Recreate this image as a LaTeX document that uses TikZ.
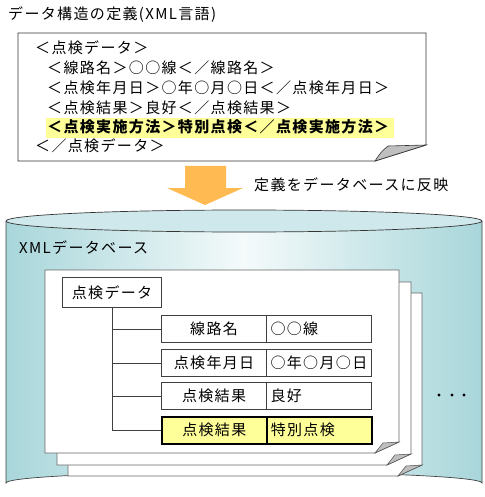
\documentclass[tikz,border=0pt]{standalone}
\usepackage{fontspec}
\setmainfont{Noto Sans CJK JP}[LetterSpace=9]
\definecolor{cylcol}{RGB}{168,214,218}
\definecolor{arrowcol}{RGB}{255,187,82}
\definecolor{hilite}{RGB}{255,255,153}
\tikzset{
  txt/.style={anchor=west, inner sep=0pt, font=\fontsize{15bp}{18bp}\selectfont},
  cell/.style={draw=black!75, line width=1.1pt, fill=white, minimum width=105bp,
    minimum height=27bp, anchor=north west, inner sep=0pt,
    font=\fontsize{15bp}{18bp}\selectfont},
  valcell/.style={cell, text width=97bp, align=left, inner xsep=4bp},
  markcell/.style={fill=hilite, draw=black, line width=1.6pt}
}
\begin{document}
\begin{tikzpicture}[x=1bp, y=-1bp]
  \useasboundingbox (0,0) rectangle (485,497);

  \node[txt] (title) at (8,15) {データ構造の定義(XML言語)};

  % document with folded corner
  \filldraw[
    line width=0.8pt,
    draw=black!80,
    fill=white
  ] (18,33) -- (426,33) -- (426,145) -- (375,161) -- (18,161) -- cycle;
  \fill[hilite] (46,118) rectangle (394,138);
  \filldraw[
    line width=0.6pt,
    draw=black!80,
    fill=black!25
  ] (375,161) .. controls (381,152) .. (388,146) -- (426,145) -- cycle;

  \node[txt] (l1) at (35,48) {＜点検データ＞};
  \node[txt] (l2) at (47,68) {＜線路名＞○○線＜／線路名＞};
  \node[txt] (l3) at (47,88) {＜点検年月日＞○年○月○日＜／点検年月日＞};
  \node[txt] (l4) at (47,108) {＜点検結果＞良好＜／点検結果＞};
  \node[txt, font=\fontsize{15bp}{18bp}\selectfont\bfseries] (l5) at (47,127)
    {＜点検実施方法＞特別点検＜／点検実施方法＞};
  \node[txt] (l6) at (35,146) {＜／点検データ＞};

  % arrow
  \fill[arrowcol] (185,166) -- (226,166) -- (226,188) -- (243,188) -- (205,205)
    -- (167,188) -- (185,188) -- cycle;
  \node[txt] (reflect) at (254,185) {定義をデータベースに反映};

  % database cylinder
  \shade[left color=cylcol, right color=cylcol, middle color=cylcol!12]
    (6,221) -- (6,483) arc[start angle=180, end angle=360, x radius=238, y radius=11]
    -- (482,221) arc[start angle=0, end angle=180, x radius=238, y radius=11] -- cycle;
  \draw[line width=0.7pt, black!75]
    (6,221) -- (6,483) arc[start angle=180, end angle=360, x radius=238, y radius=11]
    -- (482,221);
  \filldraw[
    line width=0.7pt,
    draw=black!80,
    fill=cylcol!55
  ] (244,221) ellipse[x radius=238, y radius=11];
  \node[txt] (dbname) at (19,248) {XMLデータベース};

  % stacked records
  \foreach \d in {23,12,0}{
    \filldraw[
      line width=0.7pt,
      draw=black!60,
      fill=white
    ] (45+\d,270+\d) -- (399+\d,270+\d) -- (399+\d,442+\d) -- (375+\d,453+\d)
      -- (45+\d,453+\d) -- cycle;
    \filldraw[
      line width=0.5pt,
      draw=black!70,
      fill=black!25
    ] (375+\d,453+\d) .. controls (379+\d,448+\d) .. (383+\d,443+\d) -- (399+\d,442+\d) -- cycle;
  }

  \node[draw=black!75, line width=1.1pt, fill=white, minimum width=99bp,
    minimum height=30bp, anchor=north west, inner sep=0pt,
    font=\fontsize{15bp}{18bp}\selectfont] (root) at (62,277) {点検データ};

  \node[cell] (k1) at (161,315) {線路名};
  \node[valcell] (v1) at (266,315) {○○線};
  \node[cell] (k2) at (161,349) {点検年月日};
  \node[valcell] (v2) at (266,349) {○年○月○日};
  \node[cell] (k3) at (161,382) {点検結果};
  \node[valcell] (v3) at (266,382) {良好};
  \node[cell, markcell] (k4) at (161,416) {点検結果};
  \node[valcell, markcell] (v4) at (266,416) {特別点検};

  \foreach \r in {1,...,4}
    \draw[line width=1pt, black!75] (root.south) |- (k\r.west);

  \foreach \x in {439,452,464}
    \fill (\x,395) circle[radius=1.6];
\end{tikzpicture}
\end{document}
